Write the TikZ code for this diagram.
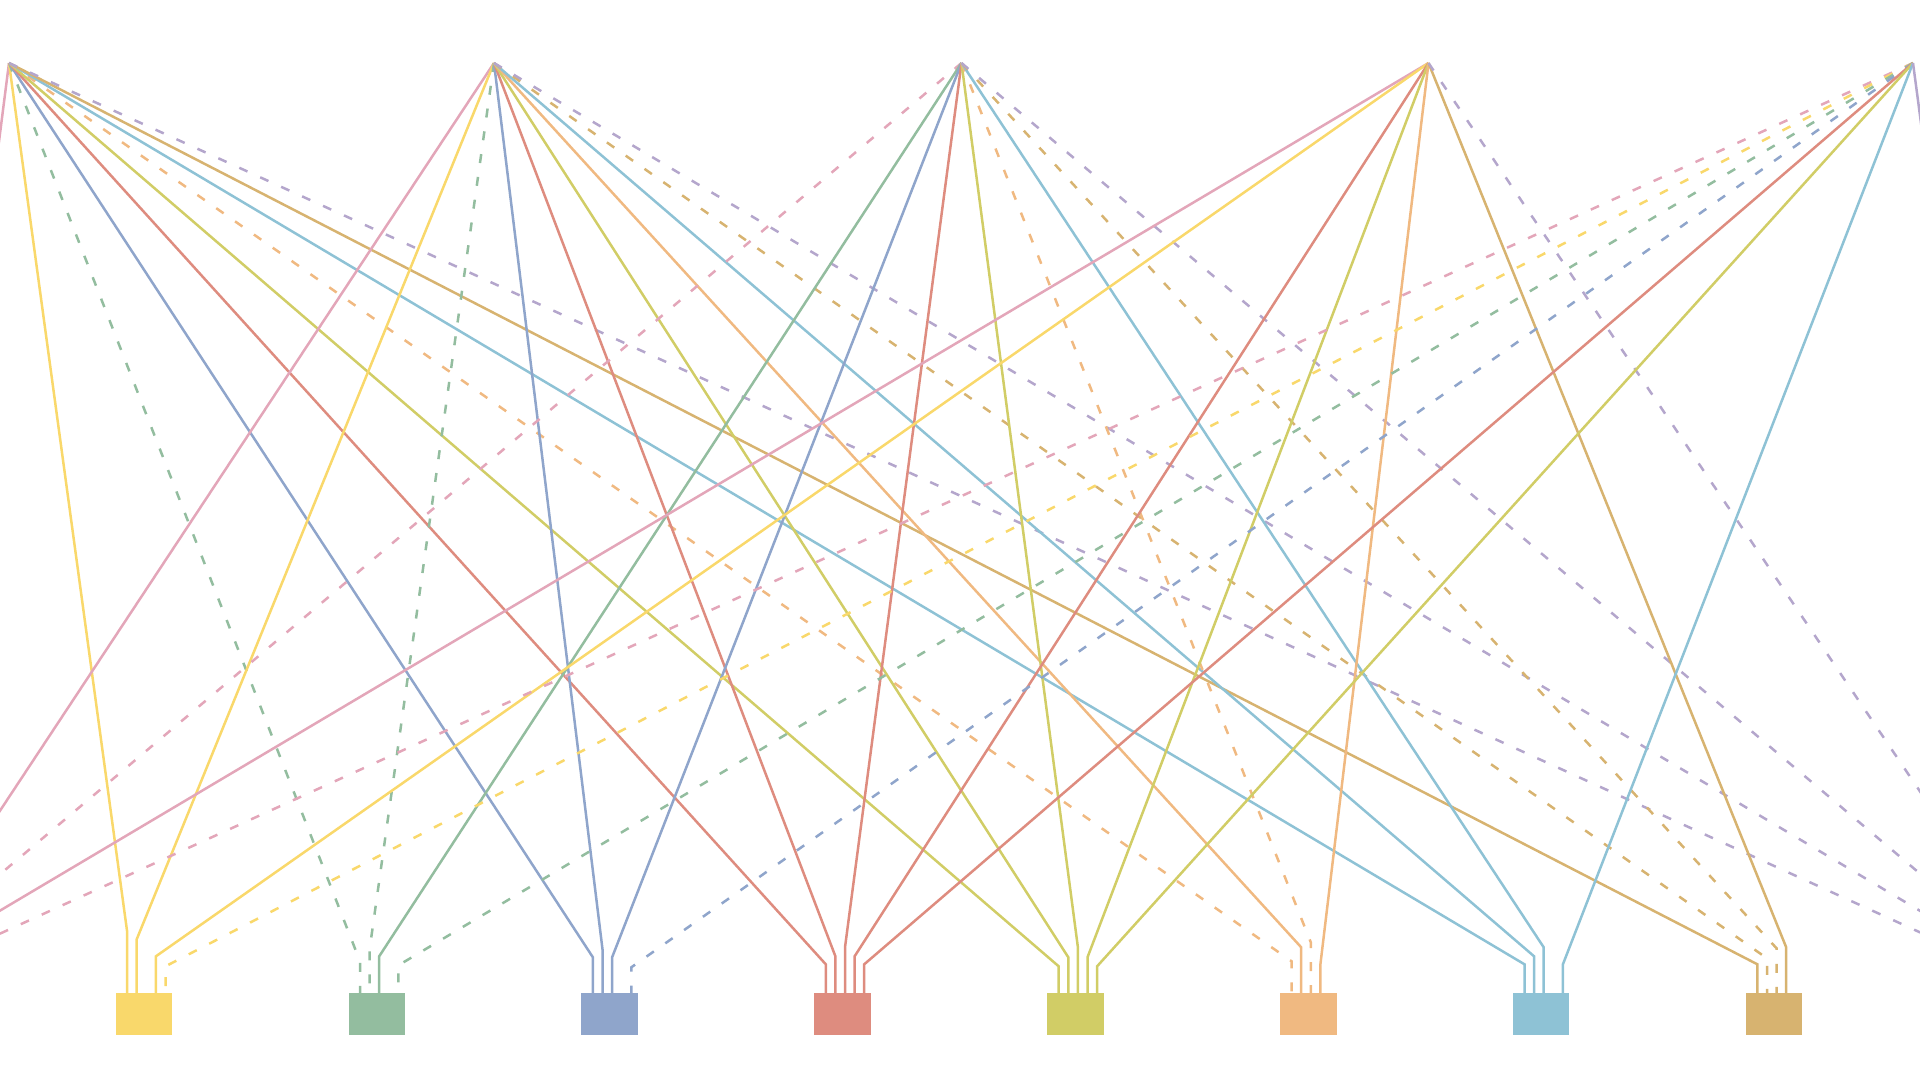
\documentclass[tikz,border=0pt]{standalone}
\usetikzlibrary{calc}

\definecolor{cP}{HTML}{E3A6B9}
\definecolor{cY}{HTML}{F9D86B}
\definecolor{cG}{HTML}{93BD9F}
\definecolor{cB}{HTML}{8FA5CB}
\definecolor{cR}{HTML}{DE8C7F}
\definecolor{cO}{HTML}{D1CD66}
\definecolor{cOr}{HTML}{F0B981}
\definecolor{cC}{HTML}{8EC2D5}
\definecolor{cT}{HTML}{D7B370}
\definecolor{cV}{HTML}{B4A6CC}

\tikzset{
  box/.style={rectangle, minimum width=5.5mm, minimum height=4mm, inner sep=0pt},
  link/.style={line width=0.25mm},
  dashlink/.style={link, dash pattern=on 0.9mm off 1.4mm}
}

\begin{document}
\begin{tikzpicture}[x=0.1mm, y=-0.1mm]
  \useasboundingbox (0,0) rectangle (1920,1080);
  \clip (0,0) rectangle (1920,1080);

  %draw top points
  \coordinate (s1) at (9,63);
  \coordinate (s2) at (494,63);
  \coordinate (s3) at (961.5,63);
  \coordinate (s4) at (1428.5,63);
  \coordinate (s5) at (1913,63);

  %draw boxes
  \foreach \t [count=\j from 0] in {P,Y,G,B,R,O,Or,C,T,V}
    \node[box, fill=c\t] (t\t) at ({-89.1+232.9*\j},1014) {};

  %draw links
  \foreach \s/\t/\k/\h/\st in {
      1/P/1/30/link, 1/Y/1/62/link, 1/G/1/32/dashlink, 1/B/1/36/link, 1/R/1/29/link,
      1/O/1/27/link, 1/Or/1/32/dashlink, 1/C/1/29/link, 1/T/1/29/link, 1/V/1/29/dashlink,
      2/P/2/37/link, 2/Y/2/54/link, 2/G/2/44/dashlink, 2/B/2/44/link, 2/R/2/37/link,
      2/O/2/36/link, 2/Or/2/46/link, 2/C/2/37/link, 2/T/2/35/dashlink, 2/V/2/35/dashlink,
      3/P/3/46/dashlink, 3/G/3/37/link, 3/B/3/36/link, 3/R/3/46/link, 3/O/3/46/link,
      3/Or/3/51/dashlink, 3/C/3/46/link, 3/T/3/45/dashlink, 3/V/3/44/dashlink,
      4/P/4/37/link, 4/Y/4/37/link, 4/R/4/37/link, 4/O/4/36/link, 4/Or/4/29/link,
      4/T/4/46/link, 4/V/4/55/dashlink,
      5/P/5/29/dashlink, 5/Y/5/27/dashlink, 5/G/5/28/dashlink, 5/B/5/26/dashlink, 5/R/5/29/link,
      5/O/5/27/link, 5/C/5/29/link, 5/V/5/62/link}
    \draw[\st, draw=c\t] (s\s) -- ($(t\t.north)+({(\k-3)*9.6+2.5},-\h)$)
      -- ($(t\t.north)+({(\k-3)*9.6+2.5},0)$);

  %boxes on top of the links
  \foreach \t in {P,Y,G,B,R,O,Or,C,T,V}
    \fill[c\t] (t\t.south west) rectangle (t\t.north east);
\end{tikzpicture}
\end{document}
